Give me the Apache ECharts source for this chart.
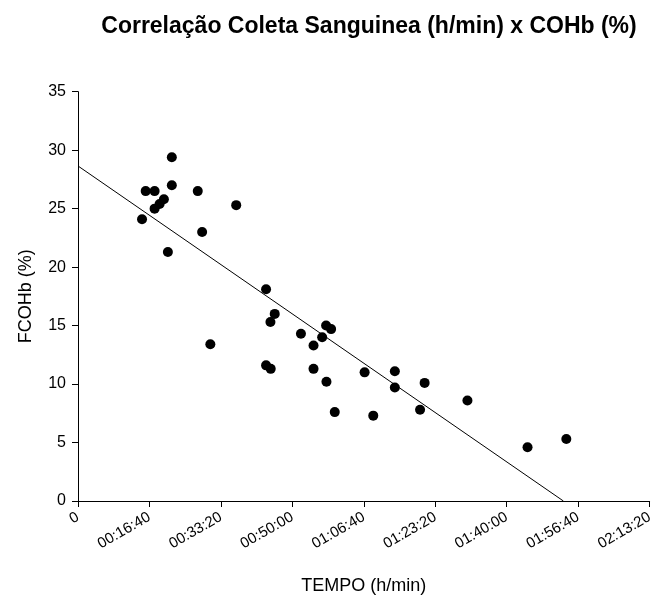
<!DOCTYPE html>
<html>
<head>
<meta charset="utf-8">
<script src="https://cdn.jsdelivr.net/npm/echarts@6/dist/echarts.min.js"></script>
<style>
  html, body { margin: 0; padding: 0; background: #fff; }
  #chart { width: 656px; height: 601px; }
</style>
</head>
<body>
<div id="chart"></div>
<script>
// tempo em segundos, COHb em %
var tempoSeg = [896, 947, 1072, 1313, 1313, 1676, 2214, 1072, 1142, 1202, 1737, 1258,
  2632, 2753, 2693, 1852, 3120, 3472, 3542, 3417, 3296, 2632, 2697, 3296, 3477, 3593,
  4011, 4434, 4434, 4132, 4851, 4787, 5450, 6291, 6834];
var cohb = [24.1, 26.5, 26.5, 29.4, 27.0, 26.5, 25.3, 25.0, 25.4, 25.8, 23.0, 21.3,
  18.1, 16.0, 15.3, 13.4, 14.3, 15.0, 14.7, 14.0, 13.3, 11.6, 11.3, 11.3, 10.2, 7.6,
  11.0, 11.1, 9.7, 7.3, 10.1, 7.8, 8.6, 4.6, 5.3];
// reta de regressão (extremos)
var retaX = [0, 6793];
var retaY = [28.65, 0];

function hms(v) {
  if (v === 0) return "0";
  var h = Math.floor(v / 3600), m = Math.floor((v % 3600) / 60), s = v % 60;
  var p = function (n) { return (n < 10 ? "0" : "") + n; };
  return p(h) + ":" + p(m) + ":" + p(s);
}

var chart = echarts.init(document.getElementById("chart"), null, { renderer: "canvas" });
var font = "Liberation Sans, Arial, sans-serif";
chart.setOption({
  animation: false,
  title: {
    text: "Correlação Coleta Sanguinea (h/min) x COHb (%)",
    left: 364, top: 10, textAlign: "center",
    textStyle: { fontFamily: font, fontSize: 23, fontWeight: "bold", color: "#000" }
  },
  grid: { left: 78, right: 3.5, top: 91.7, bottom: 100, containLabel: false },
  xAxis: {
    type: "value", min: 0, max: 8000, interval: 1000,
    name: "TEMPO (h/min)", nameLocation: "middle", nameGap: 76,
    nameTextStyle: { color: "#000", fontFamily: font, fontSize: 18 },
    axisLine: { show: true, onZero: false, lineStyle: { color: "#000", width: 1 } },
    axisTick: { show: true, length: 6, lineStyle: { color: "#000" } },
    axisLabel: { rotate: 30, color: "#000", fontFamily: font, fontSize: 15, margin: 15, formatter: hms },
    splitLine: { show: false }
  },
  yAxis: {
    type: "value", min: 0, max: 35, interval: 5,
    name: "FCOHb (%)", nameLocation: "middle", nameGap: 43,
    nameTextStyle: { color: "#000", fontFamily: font, fontSize: 18 },
    axisLine: { show: true, lineStyle: { color: "#000", width: 1 } },
    axisTick: { show: true, length: 6, lineStyle: { color: "#000" } },
    axisLabel: { color: "#000", fontFamily: font, fontSize: 16, margin: 12 },
    splitLine: { show: false }
  },
  series: [{
    type: "scatter", symbolSize: 10, itemStyle: { color: "#000", opacity: 1 },
    data: tempoSeg.map(function (t, i) { return [t, cohb[i]]; })
  }, {
    type: "line", symbol: "none", lineStyle: { color: "#000", width: 1 },
    data: retaX.map(function (t, i) { return [t, retaY[i]]; })
  }]
});
</script>
</body>
</html>
